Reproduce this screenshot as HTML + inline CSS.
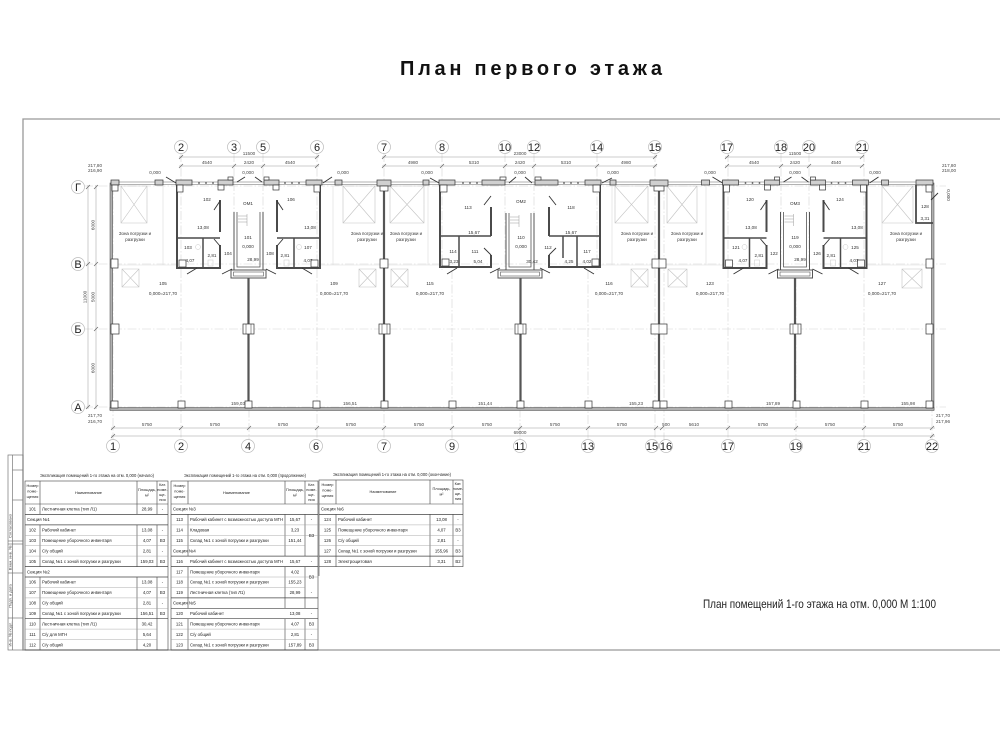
<!DOCTYPE html>
<html><head><meta charset="utf-8">
<style>
html,body{margin:0;padding:0;background:#fff;}
svg{display:block;}
text{font-family:"Liberation Sans",Arial,sans-serif;}
</style></head><body>
<svg width="1000" height="750" viewBox="0 0 1000 750" xmlns="http://www.w3.org/2000/svg">
<rect width="1000" height="750" fill="#fff"/>

<!-- Title -->
<text x="531" y="75" font-size="20" font-weight="bold" text-anchor="middle" textLength="262" lengthAdjust="spacing" fill="#111">План первого этажа</text>

<!-- Frame -->
<path d="M1000,119 H23 V650 H1000" fill="none" stroke="#999" stroke-width="1.3"/>

<!-- Stamp -->
<g stroke="#777" stroke-width="0.7" fill="none">
<rect x="8" y="455" width="15" height="195"/>
<line x1="12.5" y1="455" x2="12.5" y2="650"/>
<line x1="12.5" y1="470" x2="23" y2="470"/>
<line x1="12.5" y1="500" x2="23" y2="500"/>
<line x1="8" y1="541" x2="23" y2="541"/>
<line x1="8" y1="544" x2="23" y2="544"/>
<line x1="8" y1="573" x2="23" y2="573"/>
<line x1="8" y1="618" x2="23" y2="618"/>
</g>
<g font-size="4" fill="#444" text-anchor="middle">
<text transform="translate(11.5,526) rotate(-90)">Согласовано</text>
<text transform="translate(11.5,558) rotate(-90)">Взам. инв. №</text>
<text transform="translate(11.5,596) rotate(-90)">Подп. и дата</text>
<text transform="translate(11.5,634) rotate(-90)">Инв. № подл.</text>
</g>

<!-- Grid lines -->
<g stroke="#d4d4d4" stroke-width="0.6" stroke-dasharray="9,2,1.5,2">
<line x1="84" y1="186" x2="946" y2="186"/>
<line x1="84" y1="264" x2="946" y2="264"/>
<line x1="84" y1="329" x2="946" y2="329"/>
<line x1="84" y1="407" x2="946" y2="407"/>
<line x1="113" y1="186" x2="113" y2="440"/>
<line x1="181" y1="153" x2="181" y2="440"/>
<line x1="234" y1="153" x2="234" y2="270"/>
<line x1="263" y1="153" x2="263" y2="270"/>
<line x1="249" y1="278" x2="249" y2="440"/>
<line x1="317" y1="153" x2="317" y2="440"/>
<line x1="384" y1="153" x2="384" y2="440"/>
<line x1="442" y1="153" x2="442" y2="270"/>
<line x1="452" y1="270" x2="452" y2="440"/>
<line x1="505" y1="153" x2="505" y2="270"/>
<line x1="534" y1="153" x2="534" y2="270"/>
<line x1="520" y1="278" x2="520" y2="440"/>
<line x1="588" y1="270" x2="588" y2="440"/>
<line x1="597" y1="153" x2="597" y2="270"/>
<line x1="655" y1="153" x2="655" y2="440"/>
<line x1="664" y1="186" x2="664" y2="440"/>
<line x1="728" y1="153" x2="728" y2="440"/>
<line x1="781" y1="153" x2="781" y2="270"/>
<line x1="809" y1="153" x2="809" y2="270"/>
<line x1="796" y1="278" x2="796" y2="440"/>
<line x1="864" y1="153" x2="864" y2="440"/>
<line x1="932" y1="186" x2="932" y2="440"/>
</g>

<!-- Axis circles -->
<g fill="#fff" stroke="#bbb" stroke-width="0.7">
<circle cx="181" cy="147" r="6.5"/><circle cx="234" cy="147" r="6.5"/><circle cx="263" cy="147" r="6.5"/><circle cx="317" cy="147" r="6.5"/>
<circle cx="384" cy="147" r="6.5"/><circle cx="442" cy="147" r="6.5"/><circle cx="505" cy="147" r="6.5"/><circle cx="534" cy="147" r="6.5"/><circle cx="597" cy="147" r="6.5"/><circle cx="655" cy="147" r="6.5"/>
<circle cx="727" cy="147" r="6.5"/><circle cx="781" cy="147" r="6.5"/><circle cx="809" cy="147" r="6.5"/><circle cx="862" cy="147" r="6.5"/>
<circle cx="113" cy="446" r="6.5"/><circle cx="181" cy="446" r="6.5"/><circle cx="248" cy="446" r="6.5"/><circle cx="316" cy="446" r="6.5"/><circle cx="384" cy="446" r="6.5"/><circle cx="452" cy="446" r="6.5"/><circle cx="520" cy="446" r="6.5"/><circle cx="588" cy="446" r="6.5"/><circle cx="652" cy="446" r="6.5"/><circle cx="666" cy="446" r="6.5"/><circle cx="728" cy="446" r="6.5"/><circle cx="796" cy="446" r="6.5"/><circle cx="864" cy="446" r="6.5"/><circle cx="932" cy="446" r="6.5"/>
<circle cx="78" cy="187" r="6.5"/><circle cx="78" cy="264" r="6.5"/><circle cx="78" cy="329" r="6.5"/><circle cx="78" cy="407" r="6.5"/>
</g>
<g font-size="11" fill="#222" text-anchor="middle">
<text x="181" y="151">2</text><text x="234" y="151">3</text><text x="263" y="151">5</text><text x="317" y="151">6</text>
<text x="384" y="151">7</text><text x="442" y="151">8</text><text x="505" y="151">10</text><text x="534" y="151">12</text><text x="597" y="151">14</text><text x="655" y="151">15</text>
<text x="727" y="151">17</text><text x="781" y="151">18</text><text x="809" y="151">20</text><text x="862" y="151">21</text>
<text x="113" y="450">1</text><text x="181" y="450">2</text><text x="248" y="450">4</text><text x="316" y="450">6</text><text x="384" y="450">7</text><text x="452" y="450">9</text><text x="520" y="450">11</text><text x="588" y="450">13</text><text x="652" y="450">15</text><text x="666" y="450">16</text><text x="728" y="450">17</text><text x="796" y="450">19</text><text x="864" y="450">21</text><text x="932" y="450">22</text>
<text x="78" y="191">Г</text><text x="78" y="268">В</text><text x="78" y="333">Б</text><text x="78" y="411">А</text>
</g>

<!-- Dimension lines -->
<g stroke="#999" stroke-width="0.5" fill="none">
<line x1="179" y1="157" x2="319" y2="157"/><line x1="179" y1="166" x2="319" y2="166"/>
<line x1="382" y1="157" x2="657" y2="157"/><line x1="382" y1="166" x2="657" y2="166"/>
<line x1="725" y1="157" x2="864" y2="157"/><line x1="725" y1="166" x2="864" y2="166"/>
<line x1="111" y1="428" x2="935" y2="428"/><line x1="111" y1="436" x2="935" y2="436"/>
<line x1="88" y1="185" x2="88" y2="409"/><line x1="96" y1="185" x2="96" y2="409"/>
</g>
<g stroke="#666" stroke-width="0.7">
<path d="M179,159 l4,-4 M315,159 l4,-4 M179,168 l4,-4 M232,168 l4,-4 M261,168 l4,-4 M315,168 l4,-4"/>
<path d="M382,159 l4,-4 M653,159 l4,-4 M382,168 l4,-4 M440,168 l4,-4 M503,168 l4,-4 M532,168 l4,-4 M595,168 l4,-4 M653,168 l4,-4"/>
<path d="M725,159 l4,-4 M860,159 l4,-4 M725,168 l4,-4 M779,168 l4,-4 M807,168 l4,-4 M860,168 l4,-4"/>
<path d="M111,430 l4,-4 M179,430 l4,-4 M247,430 l4,-4 M315,430 l4,-4 M382,430 l4,-4 M450,430 l4,-4 M518,430 l4,-4 M586,430 l4,-4 M654,430 l4,-4 M660,430 l4,-4 M726,430 l4,-4 M794,430 l4,-4 M862,430 l4,-4 M930,430 l4,-4"/>
<path d="M111,438 l4,-4 M930,438 l4,-4"/>
<path d="M86,189 l4,-4 M86,266 l4,-4 M86,409 l4,-4 M94,189 l4,-4 M94,266 l4,-4 M94,331 l4,-4 M94,409 l4,-4"/>
</g>
<g font-size="4.6" fill="#444" text-anchor="middle">
<text x="249" y="155">11500</text><text x="207" y="164">4540</text><text x="249" y="164">2420</text><text x="290" y="164">4540</text>
<text x="520" y="155">23000</text><text x="413" y="164">4980</text><text x="474" y="164">5310</text><text x="520" y="164">2420</text><text x="566" y="164">5310</text><text x="626" y="164">4980</text>
<text x="795" y="155">11500</text><text x="754" y="164">4540</text><text x="795" y="164">2420</text><text x="836" y="164">4540</text>
<text x="147" y="426">5750</text><text x="215" y="426">5750</text><text x="283" y="426">5750</text><text x="351" y="426">5750</text><text x="419" y="426">5750</text><text x="487" y="426">5750</text><text x="555" y="426">5750</text><text x="622" y="426">5750</text><text x="666" y="426">500</text><text x="694" y="426">5610</text><text x="763" y="426">5750</text><text x="830" y="426">5750</text><text x="898" y="426">5750</text>
<text x="520" y="434">69000</text>
<text transform="translate(94.5,225) rotate(-90)">6000</text>
<text transform="translate(86.5,297) rotate(-90)">11000</text>
<text transform="translate(94.5,297) rotate(-90)">5000</text>
<text transform="translate(94.5,368) rotate(-90)">6000</text>
<text x="95" y="167">217,80</text><text x="95" y="172">216,90</text>
<text x="949" y="167">217,80</text><text x="949" y="172">218,00</text>
<text x="95" y="417">217,70</text><text x="95" y="423">216,70</text>
<text x="943" y="417">217,70</text><text x="943" y="423">217,96</text>
<text transform="translate(947,195) rotate(90)">0,000</text>
<text x="155" y="174">0,000</text><text x="248" y="174">0,000</text><text x="343" y="174">0,000</text><text x="427" y="174">0,000</text><text x="520" y="174">0,000</text><text x="613" y="174">0,000</text><text x="710" y="174">0,000</text><text x="795" y="174">0,000</text><text x="875" y="174">0,000</text>
<text x="238" y="405">159,03</text><text x="350" y="405">156,51</text><text x="485" y="405">151,44</text><text x="636" y="405">155,23</text><text x="773" y="405">157,89</text><text x="908" y="405">155,98</text>
</g>

<!-- Loading zone crossed boxes -->
<g stroke="#c4c4c4" stroke-width="0.6" fill="none">
<path d="M121,186h26v37h-26z M121,186l26,37 M147,186l-26,37"/>
<path d="M343,186h32v37h-32z M343,186l32,37 M375,186l-32,37"/>
<path d="M390,186h34v37h-34z M390,186l34,37 M424,186l-34,37"/>
<path d="M615,186h33v37h-33z M615,186l33,37 M648,186l-33,37"/>
<path d="M667,186h30v37h-30z M667,186l30,37 M697,186l-30,37"/>
<path d="M882,186h31v37h-31z M882,186l31,37 M913,186l-31,37"/>
<path d="M122,269h17v18h-17z M122,269l17,18 M139,269l-17,18"/>
<path d="M359,269h17v18h-17z M359,269l17,18 M376,269l-17,18"/>
<path d="M391,269h17v18h-17z M391,269l17,18 M408,269l-17,18"/>
<path d="M631,269h17v18h-17z M631,269l17,18 M648,269l-17,18"/>
<path d="M668,269h19v18h-19z M668,269l19,18 M687,269l-19,18"/>
<path d="M902,269h20v19h-20z M902,269l20,19 M922,269l-20,19"/>
</g>
<g stroke="#dcdcdc" stroke-width="0.6" fill="none">
<path d="M163,186V265 M333,186V265 M428,186V265 M612,186V265 M706,186V265 M882,186V265"/>
<path d="M117,265H177 M320,265H380 M388,265H440 M600,265H655 M663,265H723 M866,265H930"/>
</g>

<!-- Top glazing line -->
<g stroke="#666" stroke-width="0.6">
<line x1="111" y1="182" x2="933" y2="182"/>
<line x1="111" y1="184.5" x2="933" y2="184.5"/>
</g>

<!-- Outer walls -->
<g fill="#b0b0b0" stroke="#444" stroke-width="0.5">
<rect x="110" y="183" width="2.6" height="227"/>
<rect x="931.4" y="183" width="2.6" height="227"/>
<rect x="110" y="407.5" width="824" height="3"/>
</g>
<g stroke="#555" stroke-width="2.2">
<line x1="384" y1="186" x2="384" y2="408"/>
<line x1="659" y1="186" x2="659" y2="408"/>
</g>

<defs>
<g id="secA">
 <g fill="none" stroke="#4a4a4a" stroke-width="2">
  <path d="M220,200V232M220,245V268H177V185"/>
  <path d="M277,200V232M277,245V268H320V185"/>
 </g>
 <g fill="none" stroke="#4a4a4a" stroke-width="1.5">
  <path d="M177,238H220M203,238V268M277,238H320M294,238V268"/>
 </g>
 <g fill="none" stroke="#555" stroke-width="1">
  <path d="M234,212V270H263V212"/>
  <path d="M237,212V267H260V212" stroke-width="0.8"/>
  <rect x="231" y="270" width="35" height="8"/>
  <rect x="233.5" y="272" width="30" height="4" stroke-width="0.6"/>
  <path d="M238,216H247M238,219H247M238,222H247M247,214V226" stroke="#999" stroke-width="0.5"/>
 </g>
 <line x1="248.5" y1="278" x2="248.5" y2="408" stroke="#555" stroke-width="2.2"/>
 <g stroke="#333" stroke-width="0.9">
  <line x1="166" y1="177" x2="176" y2="183"/>
  <line x1="323" y1="183" x2="332" y2="177"/>
  <line x1="237" y1="182" x2="245" y2="177"/>
  <line x1="255" y1="177" x2="262" y2="182"/>
  <line x1="220" y1="201" x2="214" y2="210"/>
  <line x1="214" y1="239" x2="220" y2="246"/>
  <line x1="277" y1="201" x2="283" y2="210"/>
  <line x1="283" y1="239" x2="277" y2="246"/>
  <line x1="187" y1="274" x2="197" y2="268"/>
  <line x1="302" y1="268" x2="312" y2="274"/>
  <line x1="222" y1="274" x2="232" y2="269"/>
  <line x1="266" y1="269" x2="276" y2="274"/>
 </g>
 <g fill="#d0d0d0" stroke="#333" stroke-width="0.7">
  <rect x="176" y="180" width="16" height="5"/>
  <rect x="177" y="185" width="6" height="7" fill="#fff"/>
  <rect x="218" y="180" width="15" height="5"/>
  <rect x="228" y="177" width="5" height="3" fill="#fff"/>
  <rect x="218" y="185" width="6" height="5" fill="#fff"/>
  <rect x="264" y="180" width="15" height="5"/>
  <rect x="264" y="177" width="5" height="3" fill="#fff"/>
  <rect x="273" y="185" width="6" height="5" fill="#fff"/>
  <rect x="306" y="180" width="16" height="5"/>
  <rect x="314" y="185" width="6" height="7" fill="#fff"/>
  <rect x="155" y="180" width="8" height="5"/>
  <rect x="335" y="180" width="7" height="5"/>
  <rect x="179" y="260" width="7" height="7" fill="#fff"/>
  <rect x="311" y="260" width="7" height="7" fill="#fff"/>
 </g>
 <g fill="#555">
  <circle cx="199" cy="183" r="0.9"/><circle cx="206" cy="183" r="0.9"/><circle cx="213" cy="183" r="0.9"/>
  <circle cx="285" cy="183" r="0.9"/><circle cx="292" cy="183" r="0.9"/><circle cx="299" cy="183" r="0.9"/>
 </g>
 <g fill="none" stroke="#c8c8c8" stroke-width="0.5">
  <circle cx="198" cy="247" r="2.5"/><rect x="208" y="260" width="5" height="6"/>
  <circle cx="299" cy="247" r="2.5"/><rect x="284" y="260" width="5" height="6"/>
 </g>
</g>
</defs>
<use href="#secA"/>
<use href="#secA" transform="translate(546.5,0)"/>

<!-- Section B -->
<g fill="none" stroke="#4a4a4a" stroke-width="2">
 <path d="M491,207V236M491,255V267H440V185"/>
 <path d="M549,207V236M549,255V267H600V185"/>
</g>
<g fill="none" stroke="#4a4a4a" stroke-width="1.5">
 <path d="M440,236H491M459,236V267M549,236H600M563,236V258M577,236V267"/>
</g>
<g fill="none" stroke="#555" stroke-width="1">
 <path d="M506,213V270H534V213"/>
 <path d="M509,213V267H531V213" stroke-width="0.8"/>
 <rect x="498" y="270" width="44" height="8"/>
 <rect x="500.5" y="272" width="39" height="4" stroke-width="0.6"/>
 <path d="M510,217H519M510,220H519M510,223H519M519,215V227" stroke="#999" stroke-width="0.5"/>
</g>
<line x1="520.5" y1="278" x2="520.5" y2="408" stroke="#555" stroke-width="2.2"/>
<g stroke="#333" stroke-width="0.9">
 <line x1="430" y1="178" x2="439" y2="183"/>
 <line x1="602" y1="183" x2="612" y2="178"/>
 <line x1="509" y1="183" x2="516" y2="177"/>
 <line x1="525" y1="177" x2="532" y2="183"/>
 <line x1="491" y1="196" x2="484" y2="205"/>
 <line x1="549" y1="196" x2="556" y2="205"/>
 <line x1="484" y1="248" x2="491" y2="255"/>
 <line x1="556" y1="248" x2="549" y2="255"/>
 <line x1="447" y1="274" x2="457" y2="268"/>
 <line x1="584" y1="268" x2="594" y2="274"/>
 <line x1="490" y1="273" x2="500" y2="268"/>
 <line x1="540" y1="268" x2="550" y2="273"/>
</g>
<g fill="#d0d0d0" stroke="#333" stroke-width="0.7">
 <rect x="439" y="180" width="16" height="5"/>
 <rect x="440" y="185" width="7" height="7" fill="#fff"/>
 <rect x="482" y="180" width="23" height="5"/>
 <rect x="500" y="177" width="6" height="3" fill="#fff"/>
 <rect x="535" y="180" width="23" height="5"/>
 <rect x="535" y="177" width="6" height="3" fill="#fff"/>
 <rect x="585" y="180" width="16" height="5"/>
 <rect x="593" y="185" width="7" height="7" fill="#fff"/>
 <rect x="423" y="180" width="6" height="5"/>
 <rect x="610" y="180" width="6" height="5"/>
 <rect x="442" y="259" width="7" height="7" fill="#fff"/>
 <rect x="592" y="259" width="7" height="7" fill="#fff"/>
 <!-- corners / columns -->
 <rect x="111" y="180" width="8" height="5"/>
 <rect x="112" y="185" width="6" height="6" fill="#fff"/>
 <rect x="377" y="180" width="14" height="6"/>
 <rect x="380" y="186" width="8" height="5" fill="#fff"/>
 <rect x="650" y="180" width="18" height="6"/>
 <rect x="654" y="186" width="10" height="5" fill="#fff"/>
 <rect x="916" y="180" width="17" height="5"/>
 <rect x="926" y="185" width="6" height="7" fill="#fff"/>
</g>
<g fill="#555">
 <circle cx="463" cy="183" r="0.9"/><circle cx="470" cy="183" r="0.9"/><circle cx="477" cy="183" r="0.9"/>
 <circle cx="564" cy="183" r="0.9"/><circle cx="571" cy="183" r="0.9"/><circle cx="578" cy="183" r="0.9"/>
</g>
<!-- room 128 -->
<path d="M916,185V223H933" fill="none" stroke="#4a4a4a" stroke-width="1.8"/>
<line x1="931" y1="200" x2="938" y2="193" stroke="#333" stroke-width="0.9"/>

<!-- Column boxes -->
<g fill="#fff" stroke="#333" stroke-width="0.7">
 <rect x="111" y="259" width="7" height="9"/><rect x="926" y="259" width="7" height="9"/>
 <rect x="380" y="259" width="8" height="9"/><rect x="652" y="259" width="14" height="9"/>
 <rect x="111" y="324" width="8" height="10"/><rect x="243" y="324" width="11" height="10"/><rect x="379" y="324" width="11" height="10"/><rect x="515" y="324" width="11" height="10"/><rect x="651" y="324" width="16" height="10"/><rect x="790" y="324" width="11" height="10"/><rect x="926" y="324" width="7" height="10"/>
 <rect x="111" y="401" width="7" height="7"/><rect x="178" y="401" width="7" height="7"/><rect x="245" y="401" width="7" height="7"/><rect x="313" y="401" width="7" height="7"/><rect x="381" y="401" width="7" height="7"/><rect x="449" y="401" width="7" height="7"/><rect x="517" y="401" width="7" height="7"/><rect x="585" y="401" width="7" height="7"/><rect x="653" y="401" width="7" height="7"/><rect x="660" y="401" width="7" height="7"/><rect x="725" y="401" width="7" height="7"/><rect x="793" y="401" width="7" height="7"/><rect x="861" y="401" width="7" height="7"/><rect x="926" y="401" width="7" height="7"/>
</g>
<g stroke="#333" stroke-width="0.5">
 <line x1="659" y1="259" x2="659" y2="268"/><line x1="659" y1="324" x2="659" y2="334"/>
 <line x1="246" y1="324" x2="246" y2="334"/><line x1="251" y1="324" x2="251" y2="334"/>
 <line x1="382" y1="324" x2="382" y2="334"/><line x1="387" y1="324" x2="387" y2="334"/>
 <line x1="518" y1="324" x2="518" y2="334"/><line x1="523" y1="324" x2="523" y2="334"/>
 <line x1="793" y1="324" x2="793" y2="334"/><line x1="798" y1="324" x2="798" y2="334"/>
</g>

<!-- Room labels -->
<g font-size="4.6" fill="#333" text-anchor="middle">
<text x="207" y="201">102</text><text x="203" y="229">13,08</text><text x="188" y="249">103</text><text x="190" y="262">4,07</text><text x="212" y="257">2,81</text><text x="228" y="255">104</text>
<text x="248" y="205">ОМ1</text><text x="248" y="239">101</text><text x="248" y="248">0,000</text><text x="253" y="261">28,99</text>
<text x="270" y="255">108</text><text x="285" y="257">2,81</text><text x="308" y="249">107</text><text x="308" y="262">4,07</text><text x="291" y="201">106</text><text x="310" y="229">13,08</text>
<text x="468" y="209">113</text><text x="474" y="234">15,67</text><text x="453" y="253">114</text><text x="454" y="263">3,23</text><text x="475" y="253">111</text><text x="478" y="263">5,04</text>
<text x="521" y="203">ОМ2</text><text x="521" y="239">110</text><text x="521" y="248">0,000</text><text x="532" y="263">30,42</text>
<text x="548" y="249">112</text><text x="569" y="263">4,25</text><text x="587" y="253">117</text><text x="587" y="263">4,02</text><text x="571" y="209">118</text><text x="571" y="234">15,67</text>
<text x="750" y="201">120</text><text x="751" y="229">13,08</text><text x="736" y="249">121</text><text x="743" y="262">4,07</text><text x="759" y="257">2,81</text><text x="774" y="255">122</text>
<text x="795" y="205">ОМ3</text><text x="795" y="239">119</text><text x="795" y="248">0,000</text><text x="800" y="261">28,99</text>
<text x="817" y="255">126</text><text x="831" y="257">2,81</text><text x="855" y="249">125</text><text x="854" y="262">4,07</text><text x="840" y="201">124</text><text x="857" y="229">13,08</text>
<text x="925" y="208">128</text><text x="925" y="220">3,31</text>
<text x="163" y="285">105</text><text x="163" y="295">0,000=217,70</text>
<text x="334" y="285">109</text><text x="334" y="295">0,000=217,70</text>
<text x="430" y="285">115</text><text x="430" y="295">0,000=217,70</text>
<text x="609" y="285">116</text><text x="609" y="295">0,000=217,70</text>
<text x="710" y="285">123</text><text x="710" y="295">0,000=217,70</text>
<text x="882" y="285">127</text><text x="882" y="295">0,000=217,70</text>
</g>
<g font-size="4.4" fill="#333" text-anchor="middle">
<text x="135" y="235">Зона погрузки и</text><text x="135" y="241">разгрузки</text>
<text x="367" y="235">Зона погрузки и</text><text x="367" y="241">разгрузки</text>
<text x="406" y="235">Зона погрузки и</text><text x="406" y="241">разгрузки</text>
<text x="637" y="235">Зона погрузки и</text><text x="637" y="241">разгрузки</text>
<text x="687" y="235">Зона погрузки и</text><text x="687" y="241">разгрузки</text>
<text x="906" y="235">Зона погрузки и</text><text x="906" y="241">разгрузки</text>
</g>

<!-- Tables captions -->
<g font-size="4.3" fill="#222" text-anchor="middle">
<text x="97" y="477" textLength="114" lengthAdjust="spacingAndGlyphs">Экспликация помещений 1-го этажа на отм. 0,000 (начало)</text>
<text x="245" y="477" textLength="122" lengthAdjust="spacingAndGlyphs">Экспликация помещений 1-го этажа на отм. 0,000 (продолжение)</text>
<text x="392" y="476" textLength="118" lengthAdjust="spacingAndGlyphs">Экспликация помещений 1-го этажа на отм. 0,000 (окончание)</text>
</g>

<!-- Table 1 -->
<g stroke="#444" stroke-width="0.6" fill="none">
<rect x="25" y="481" width="143" height="169"/>
<line x1="25" y1="504" x2="168" y2="504"/>
<path d="M40,481V514.4 M137,481V514.4 M157,481V514.4 M40,524.9V566.6 M137,524.9V566.6 M157,524.9V566.6 M40,577V650 M137,577V650 M157,577V650"/>
<path d="M25,514.4H168 M25,524.9H168 M25,566.6H168 M25,577H168 M25,618.7H168" stroke-width="0.7"/>
</g>
<g stroke="#999" stroke-width="0.4">
<path d="M25,535.3H168 M25,545.7H168 M25,556.1H168 M25,587.4H168 M25,597.9H168 M25,608.3H168 M25,629.1H157 M25,639.6H157"/>
</g>
<!-- Table 2 -->
<g stroke="#444" stroke-width="0.6" fill="none">
<rect x="171" y="481" width="147" height="169"/>
<line x1="171" y1="504" x2="318" y2="504"/>
<path d="M188,481V504 M285,481V504 M305,481V504 M188,514.4V556.1 M285,514.4V556.1 M305,514.4V556.1 M188,566.6V608.3 M285,566.6V608.3 M305,566.6V608.3 M188,618.7V650 M285,618.7V650 M305,618.7V650"/>
<path d="M171,514.4H318 M171,556.1H318 M171,566.6H318 M171,597.9H318 M171,608.3H318 M171,618.7H318" stroke-width="0.7"/>
</g>
<g stroke="#999" stroke-width="0.4">
<path d="M171,524.9H318 M171,535.3H318 M171,545.7H305 M171,577H318 M171,587.4H305 M171,629.1H318 M171,639.6H318"/>
</g>
<!-- Table 3 -->
<g stroke="#444" stroke-width="0.6" fill="none">
<rect x="319" y="480" width="144" height="86.6"/>
<line x1="319" y1="504" x2="463" y2="504"/>
<path d="M336,480V504 M430,480V504 M453,480V504 M336,514.4V566.6 M430,514.4V566.6 M453,514.4V566.6"/>
<path d="M319,514.4H463 M319,556.1H463" stroke-width="0.7"/>
<path d="M319,566.6V576"/>
</g>
<g stroke="#999" stroke-width="0.4">
<path d="M319,524.9H463 M319,535.3H463 M319,545.7H463"/>
</g>

<!-- Table headers -->
<g font-size="3.9" fill="#222" text-anchor="middle">
<text x="32.5" y="487">Номер</text><text x="32.5" y="492.5">поме-</text><text x="32.5" y="498">щения</text>
<text x="88.5" y="494">Наименование</text>
<text x="147" y="491">Площадь,</text><text x="147" y="496.5">м²</text>
<text x="162.5" y="486">Кат.</text><text x="162.5" y="491">поме-</text><text x="162.5" y="496">ще-</text><text x="162.5" y="501">ния</text>
<text x="179.5" y="487">Номер</text><text x="179.5" y="492.5">поме-</text><text x="179.5" y="498">щения</text>
<text x="236.5" y="494">Наименование</text>
<text x="295" y="491">Площадь,</text><text x="295" y="496.5">м²</text>
<text x="311.5" y="486">Кат.</text><text x="311.5" y="491">поме-</text><text x="311.5" y="496">ще-</text><text x="311.5" y="501">ния</text>
<text x="327.5" y="486">Номер</text><text x="327.5" y="491.5">поме-</text><text x="327.5" y="497">щения</text>
<text x="383" y="493">Наименование</text>
<text x="441.5" y="490">Площадь,</text><text x="441.5" y="495.5">м²</text>
<text x="458" y="485">Кат.</text><text x="458" y="490">поме-</text><text x="458" y="495">ще-</text><text x="458" y="500">ния</text>
</g>

<!-- Table 1 body -->
<g font-size="4.3" fill="#222">
<g text-anchor="middle">
<text x="32.5" y="510.7">101</text><text x="147" y="510.7">28,99</text><text x="162.5" y="510.7">-</text>
<text x="32.5" y="531.6">102</text><text x="147" y="531.6">13,08</text><text x="162.5" y="531.6">-</text>
<text x="32.5" y="542">103</text><text x="147" y="542">4,07</text><text x="162.5" y="542">В3</text>
<text x="32.5" y="552.4">104</text><text x="147" y="552.4">2,81</text><text x="162.5" y="552.4">-</text>
<text x="32.5" y="562.9">105</text><text x="147" y="562.9">159,03</text><text x="162.5" y="562.9">В3</text>
<text x="32.5" y="583.7">106</text><text x="147" y="583.7">13,08</text><text x="162.5" y="583.7">-</text>
<text x="32.5" y="594.1">107</text><text x="147" y="594.1">4,07</text><text x="162.5" y="594.1">В3</text>
<text x="32.5" y="604.6">108</text><text x="147" y="604.6">2,81</text><text x="162.5" y="604.6">-</text>
<text x="32.5" y="615">109</text><text x="147" y="615">156,51</text><text x="162.5" y="615">В3</text>
<text x="32.5" y="625.4">110</text><text x="147" y="625.4">30,42</text>
<text x="32.5" y="635.9">111</text><text x="147" y="635.9">5,64</text>
<text x="32.5" y="646.3">112</text><text x="147" y="646.3">4,20</text>
</g>
<text x="42" y="510.7">Лестничная клетка (тип Л1)</text>
<text x="27" y="521.1">Секция №1</text>
<text x="42" y="531.6">Рабочий кабинет</text>
<text x="42" y="542">Помещение уборочного инвентаря</text>
<text x="42" y="552.4">С/у общий</text>
<text x="42" y="562.9">Склад №1 с зоной погрузки и разгрузки</text>
<text x="27" y="573.3">Секция №2</text>
<text x="42" y="583.7">Рабочий кабинет</text>
<text x="42" y="594.1">Помещение уборочного инвентаря</text>
<text x="42" y="604.6">С/у общий</text>
<text x="42" y="615">Склад №1 с зоной погрузки и разгрузки</text>
<text x="42" y="625.4">Лестничная клетка (тип Л1)</text>
<text x="42" y="635.9">С/у для МГН</text>
<text x="42" y="646.3">С/у общий</text>
</g>

<!-- Table 2 body -->
<g font-size="4.3" fill="#222">
<g text-anchor="middle">
<text x="179.5" y="521.1">113</text><text x="295" y="521.1">15,67</text><text x="311.5" y="521.1">-</text>
<text x="179.5" y="531.6">114</text><text x="295" y="531.6">3,23</text><text x="311.5" y="536.8">В3</text>
<text x="179.5" y="542">115</text><text x="295" y="542">151,44</text>
<text x="179.5" y="562.9">116</text><text x="295" y="562.9">15,67</text><text x="311.5" y="562.9">-</text>
<text x="179.5" y="573.3">117</text><text x="295" y="573.3">4,02</text><text x="311.5" y="578.5">В3</text>
<text x="179.5" y="583.7">118</text><text x="295" y="583.7">155,23</text>
<text x="179.5" y="594.1">119</text><text x="295" y="594.1">28,99</text><text x="311.5" y="594.1">-</text>
<text x="179.5" y="615">120</text><text x="295" y="615">13,08</text><text x="311.5" y="615">-</text>
<text x="179.5" y="625.4">121</text><text x="295" y="625.4">4,07</text><text x="311.5" y="625.4">В3</text>
<text x="179.5" y="635.9">122</text><text x="295" y="635.9">2,81</text><text x="311.5" y="635.9">-</text>
<text x="179.5" y="646.3">123</text><text x="295" y="646.3">157,89</text><text x="311.5" y="646.3">В3</text>
</g>
<text x="173" y="510.7">Секция №3</text>
<text x="190" y="521.1" textLength="93" lengthAdjust="spacingAndGlyphs">Рабочий кабинет с возможностью доступа МГН</text>
<text x="190" y="531.6">Кладовая</text>
<text x="190" y="542">Склад №1 с зоной погрузки и разгрузки</text>
<text x="173" y="552.4">Секция №4</text>
<text x="190" y="562.9" textLength="93" lengthAdjust="spacingAndGlyphs">Рабочий кабинет с возможностью доступа МГН</text>
<text x="190" y="573.3">Помещение уборочного инвентаря</text>
<text x="190" y="583.7">Склад №1 с зоной погрузки и разгрузки</text>
<text x="190" y="594.1">Лестничная клетка (тип Л1)</text>
<text x="173" y="604.6">Секция №5</text>
<text x="190" y="615">Рабочий кабинет</text>
<text x="190" y="625.4">Помещение уборочного инвентаря</text>
<text x="190" y="635.9">С/у общий</text>
<text x="190" y="646.3">Склад №1 с зоной погрузки и разгрузки</text>
</g>

<!-- Table 3 body -->
<g font-size="4.3" fill="#222">
<g text-anchor="middle">
<text x="327.5" y="521.1">124</text><text x="441.5" y="521.1">13,08</text><text x="458" y="521.1">-</text>
<text x="327.5" y="531.6">125</text><text x="441.5" y="531.6">4,07</text><text x="458" y="531.6">В3</text>
<text x="327.5" y="542">126</text><text x="441.5" y="542">2,81</text><text x="458" y="542">-</text>
<text x="327.5" y="552.4">127</text><text x="441.5" y="552.4">155,96</text><text x="458" y="552.4">В3</text>
<text x="327.5" y="562.9">128</text><text x="441.5" y="562.9">3,31</text><text x="458" y="562.9">В2</text>
</g>
<text x="321" y="510.7">Секция №6</text>
<text x="338" y="521.1">Рабочий кабинет</text>
<text x="338" y="531.6">Помещение уборочного инвентаря</text>
<text x="338" y="542">С/у общий</text>
<text x="338" y="552.4">Склад №1 с зоной погрузки и разгрузки</text>
<text x="338" y="562.9">Электрощитовая</text>
</g>

<!-- Subtitle -->
<text x="819.5" y="608" font-size="12" fill="#222" text-anchor="middle" textLength="233" lengthAdjust="spacingAndGlyphs">План помещений 1-го этажа на отм. 0,000 М 1:100</text>
</svg>
</body></html>
